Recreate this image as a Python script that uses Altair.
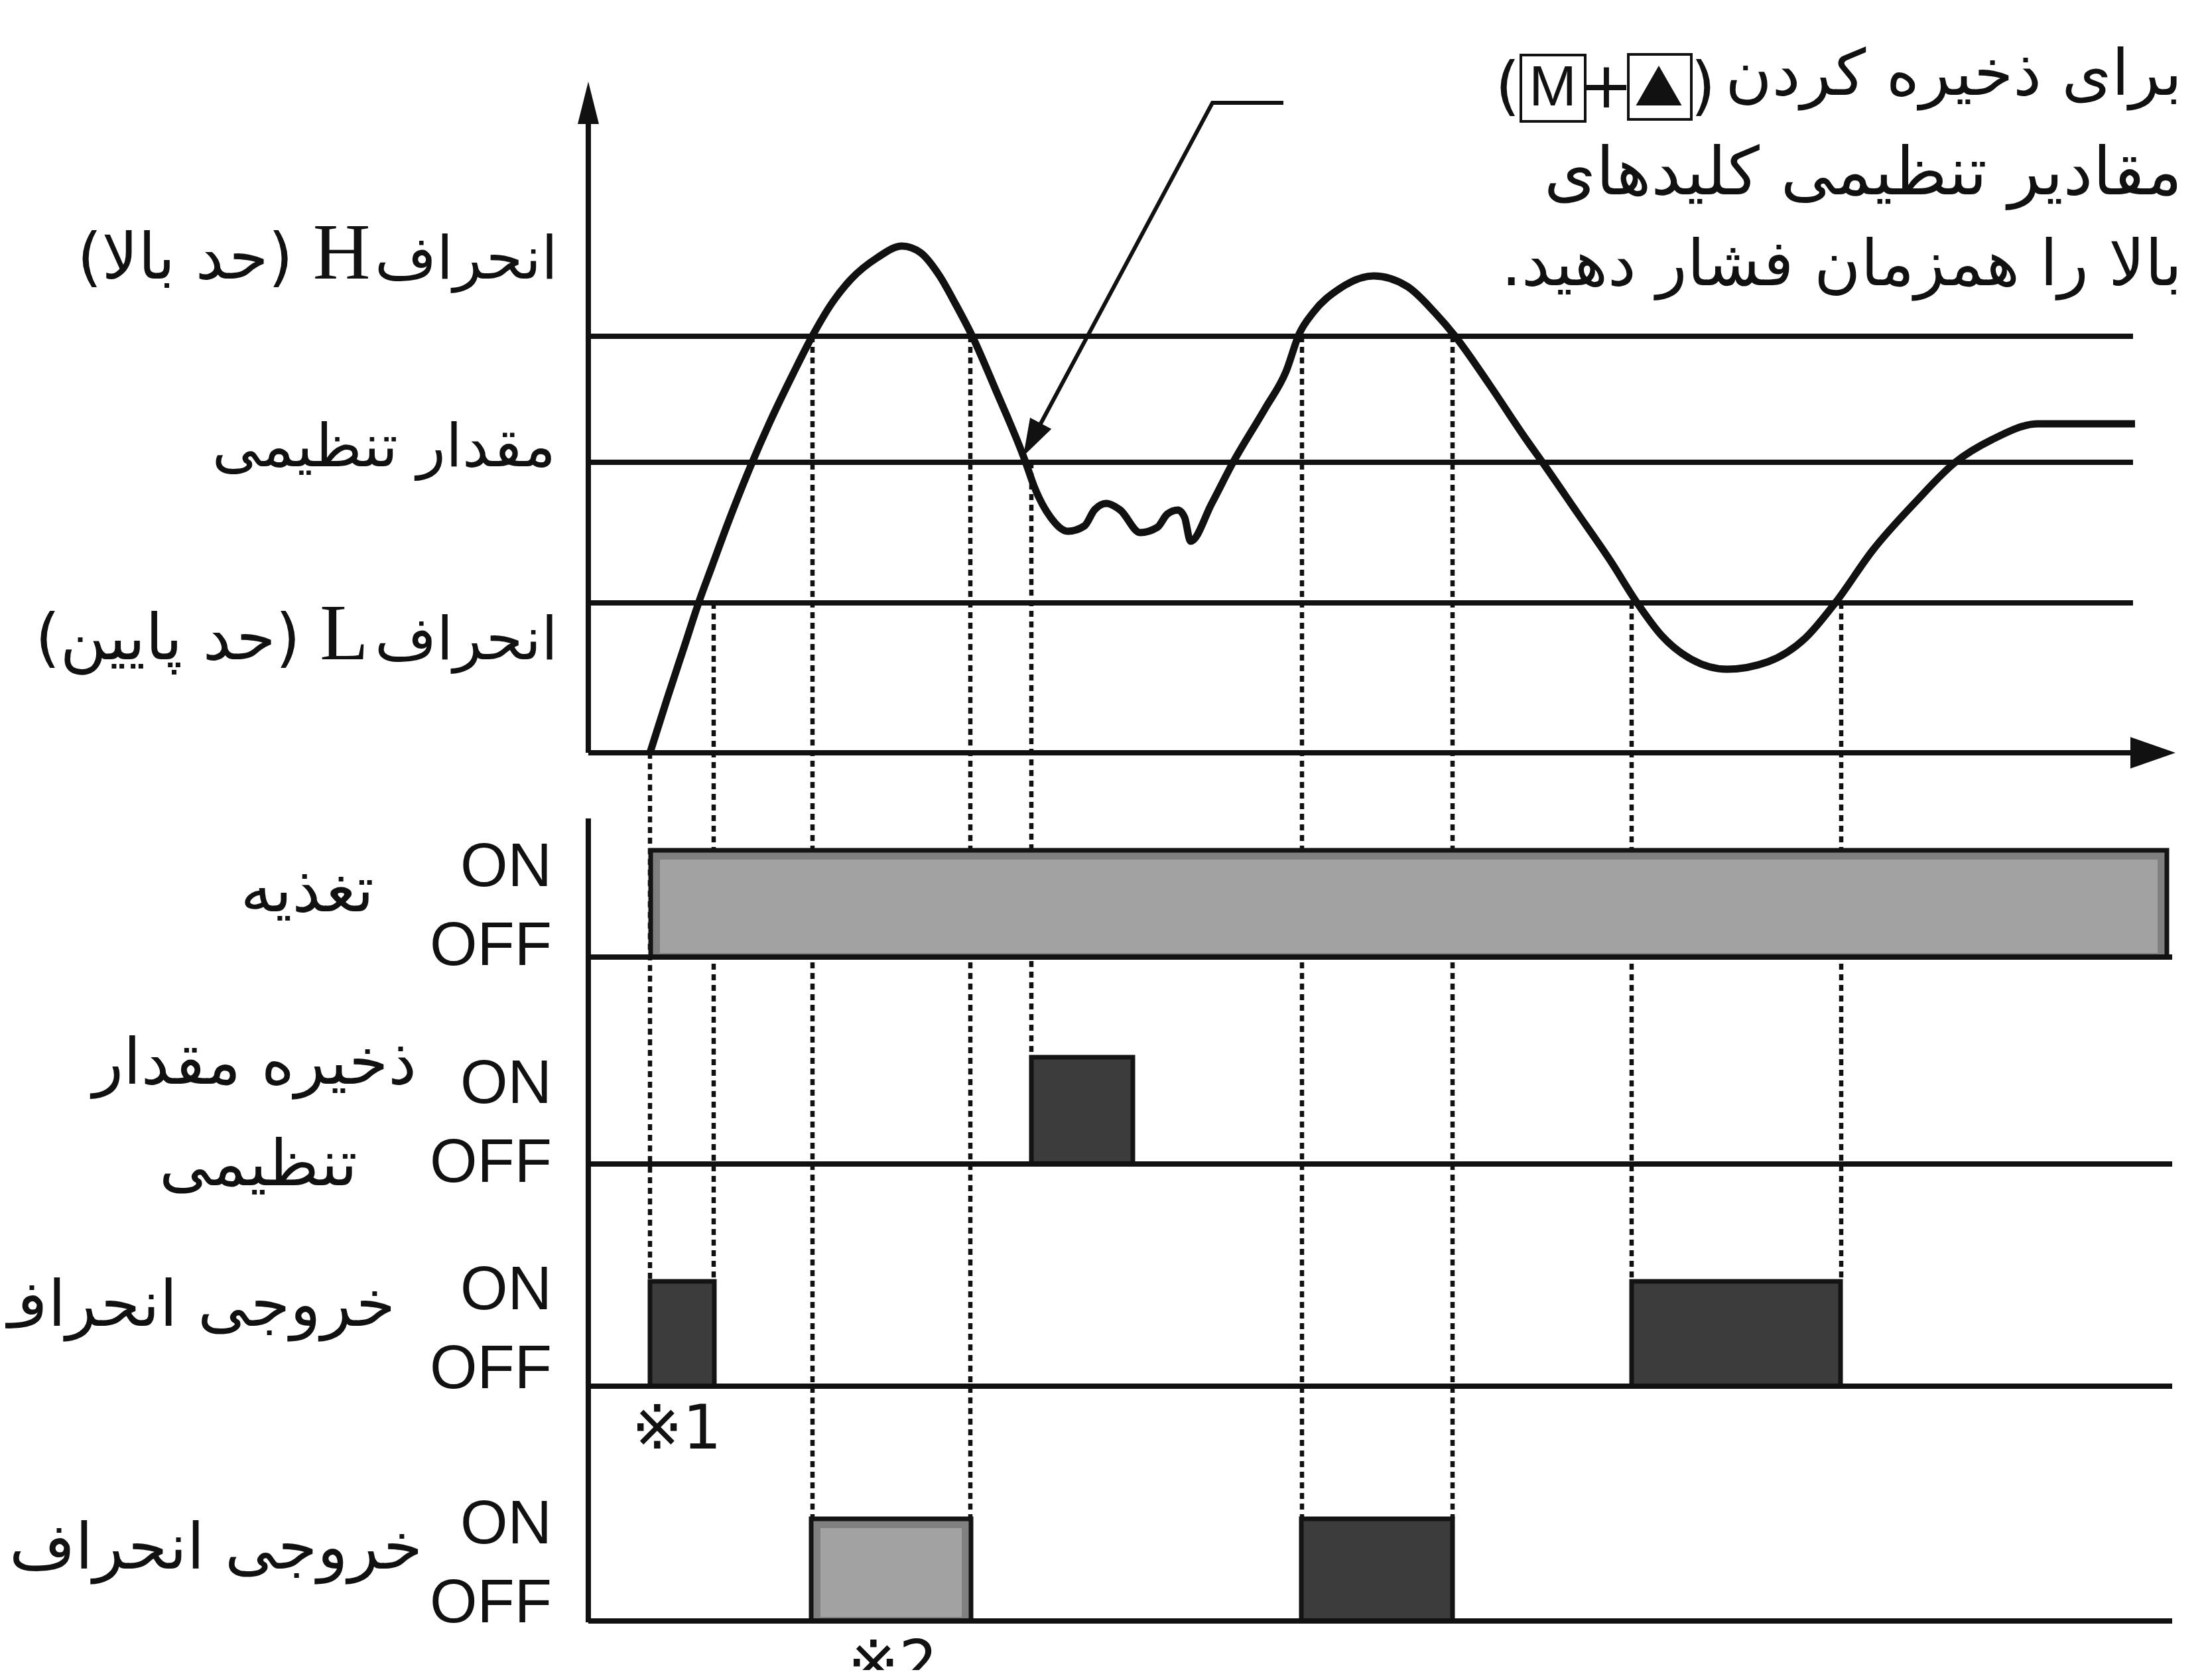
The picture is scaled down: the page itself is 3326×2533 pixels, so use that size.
import altair as alt
import pandas as pd

# ------------------------------------------------------------------
# DATA (time t, level v in diagram units)
# ------------------------------------------------------------------
CURVE_T = [9.3, 11.9, 14.4, 16.8, 18.6, 21.0, 24.5, 27.3, 30.9, 33.7, 36.8, 39.6, 43.5, 47.3,
           50.1, 52.9, 55.4, 57.9, 61.3,
           65.9, 67.2, 69.7, 72.3, 74.8, 76.3, 78.1, 80.2, 83.2, 85.8, 87.3, 88.9, 89.9, 90.8,
           94.0, 97.0, 102.1, 105.2, 107.2, 109.3, 113.3, 118.4, 123.5, 127.6, 130.7, 135.8,
           141.3, 144.0, 149.1, 154.2, 158.0, 161.8, 166.3, 171.7, 177.8, 183.5, 188.0, 193.7,
           200.1, 206.1, 211.6, 218.6, 233.2]
CURVE_V = [0.0, 8.2, 15.8, 23.1, 28.0, 34.5, 43.3, 49.7, 57.2, 62.7, 67.9, 71.4, 74.6, 76.4,
           75.4, 72.0, 67.6, 62.8, 55.0,
           43.9, 40.2, 35.5, 33.4, 34.2, 36.6, 37.6, 36.6, 33.2, 34.0, 36.0, 36.6, 35.5, 31.9,
           37.6, 43.4, 52.0, 57.5, 63.2, 66.4, 70.0, 71.9, 70.3, 66.4, 62.8, 55.6,
           47.4, 43.6, 36.2, 28.8, 22.8, 17.7, 14.1, 12.6, 13.7, 17.3, 22.6, 30.6,
           37.8, 43.8, 47.2, 49.6, 49.6]

LEVEL_NAMES = ["H", "SP", "L"]
LEVEL_VALUES = [62.8, 43.8, 22.6]

ROW_NAMES = ["power", "store", "out_L", "out_H"]
ROW_BASE = [-30.8, -62.0, -95.5, -130.9]
ROW_TOP = [-14.7, -45.9, -79.7, -115.5]

BAR_ROW = ["power", "store", "out_L", "out_L", "out_H", "out_H"]
BAR_START = [9.4, 66.8, 9.3, 157.3, 33.6, 107.5]
BAR_END = [238.0, 82.1, 19.0, 188.8, 57.7, 130.3]
BAR_SHADE = ["light", "dark", "dark", "dark", "light", "dark"]

EVENT_T = [9.3, 18.9, 33.8, 57.6, 66.8, 107.6, 130.3, 157.3, 188.9]
EVENT_FROM = ["axis", "L", "H", "H", "SP", "H", "H", "L", "L"]
EVENT_ROW = ["out_L", "out_L", "out_H", "out_H", "store", "out_H", "out_H", "out_L", "out_L"]

RLM = "\u200f"
LEVEL_WORDS = ["انحراف", "مقدار تنظیمی", "انحراف"]
LEVEL_PARENS = ["(حد بالا)", "(حد پایین)"]
LEVEL_LETTERS = ["H", "L"]
SIGNAL_TEXT = ["تغذیه", "ذخیره مقدار", "تنظیمی", "خروجی انحراف", "خروجی انحراف"]
NOTE_TEXT = ["برای ذخیره کردن", "مقادیر تنظیمی کلیدهای", RLM + "بالا را همزمان فشار دهید." + RLM]
FOOT_TEXT = ["※1", "※2"]

# ------------------------------------------------------------------
# LAYOUT (frame, anchors of annotations)
# ------------------------------------------------------------------
W, H = 3310, 2510
T_DOM = [-87.9, 243.1]
V_DOM = [-138.3, 112.7]
LEVEL_LINE_END = 232.9
ROW_LINE_END = 238.8
INK = "#111111"
AR_FONT = "DejaVu Sans"

LEVEL_WORD_POS = [(-4.6, 71.5), (-4.9, 43.2), (-4.6, 14.1)]
LEVEL_PAREN_POS = [(-44.5, 71.5), (-43.4, 14.1)]
LEVEL_LETTER_POS = [(-37.2, 71.5), (-36.8, 14.1)]
SIGNAL_TEXT_POS = [(-32.3, -23.9), (-25.9, -49.9), (-34.8, -65.2), (-29.1, -86.4), (-25.0, -123.0)]
ON_V = [-20.1, -52.8, -83.9, -119.2]
OFF_V = [-32.0, -64.7, -95.8, -131.1]
ONOFF_T = -5.5
NOTE_POS = [(240.3, 99.2), (240.3, 84.2), (240.3, 70.5)]
FOOT_POS = [(13.3, -104.9), (45.9, -133.1)]

XS = alt.Scale(domain=T_DOM, nice=False, zero=False)
YS = alt.Scale(domain=V_DOM, nice=False, zero=False)


def X(f):
    return alt.X(f, type="quantitative", scale=XS, axis=None)


def Y(f):
    return alt.Y(f, type="quantitative", scale=YS, axis=None)


layers = []

# threshold lines
lev_df = pd.DataFrame({"name": LEVEL_NAMES, "v": LEVEL_VALUES})
lev_df["t"] = 0.0
lev_df["t2"] = LEVEL_LINE_END
layers.append(alt.Chart(lev_df).mark_rule(color=INK, strokeWidth=8).encode(
    x=X("t"), x2="t2", y=Y("v")))

# axes
axis_df = pd.DataFrame({"t": [0.0, 0.0, 0.0], "v": [0.0, 0.0, -9.9],
                        "t2": [0.0, 236.5, 0.0], "v2": [99.0, 0.0, -131.1]})
layers.append(alt.Chart(axis_df).mark_rule(color=INK, strokeWidth=8).encode(
    x=X("t"), x2="t2", y=Y("v"), y2="v2"))

# event (dotted) lines
level_of = dict(zip(LEVEL_NAMES, LEVEL_VALUES))
level_of["axis"] = 0.0
top_of = dict(zip(ROW_NAMES, ROW_TOP))
base_of = dict(zip(ROW_NAMES, ROW_BASE))
ev_df = pd.DataFrame({"t": EVENT_T,
                      "v": [level_of[s] for s in EVENT_FROM],
                      "v2": [top_of[r] for r in EVENT_ROW]})
layers.append(alt.Chart(ev_df).mark_rule(color=INK, strokeWidth=6.5, strokeDash=[9, 7]).encode(
    x=X("t"), y=Y("v"), y2="v2"))

# bars
bar_df = pd.DataFrame({"t": BAR_START, "t2": BAR_END,
                       "v": [base_of[r] for r in BAR_ROW],
                       "v2": [top_of[r] for r in BAR_ROW],
                       "shade": BAR_SHADE})
enc = dict(x=X("t"), x2="t2", y=Y("v"), y2="v2")
layers.append(alt.Chart(bar_df).transform_filter("datum.shade == 'light'").mark_rect(
    fill="#808080", stroke="#141414", strokeWidth=7).encode(**enc))
layers.append(alt.Chart(bar_df).transform_filter("datum.shade == 'light'").mark_rect(
    fill="#a2a2a2", xOffset=14, x2Offset=-14, yOffset=-6, y2Offset=14).encode(**enc))
layers.append(alt.Chart(bar_df).transform_filter("datum.shade == 'dark'").mark_rect(
    fill="#3c3c3c", stroke="#141414", strokeWidth=7).encode(**enc))

# row baselines
row_df = pd.DataFrame({"row": ROW_NAMES, "v": ROW_BASE})
row_df["t"] = 0.0
row_df["t2"] = ROW_LINE_END
layers.append(alt.Chart(row_df).mark_rule(color=INK, strokeWidth=8).encode(
    x=X("t"), x2="t2", y=Y("v")))

# process curve
curve_df = pd.DataFrame({"t": CURVE_T, "v": CURVE_V})
layers.append(alt.Chart(curve_df).mark_line(color=INK, strokeWidth=11, interpolate="monotone",
                                            strokeJoin="round").encode(
    x=X("t"), y=Y("v")))

# pointer to the set value
ptr_df = pd.DataFrame({"t": [104.8, 94.1, 66.9], "v": [98.0, 98.0, 47.2], "i": [0, 1, 2]})
layers.append(alt.Chart(ptr_df).mark_line(color=INK, strokeWidth=6).encode(
    x=X("t"), y=Y("v"), order="i:Q"))


def head(t, v, shape, size, angle=0):
    df = pd.DataFrame({"t": [t], "v": [v]})
    return alt.Chart(df).mark_point(shape=shape, size=size, angle=angle, filled=True,
                                    fill=INK, color=INK, opacity=1, strokeWidth=0).encode(
        x=X("t"), y=Y("v"))


layers.append(head(0.0, 98.0, "M0,-1L-0.5,1L0.5,1Z", 4096))
layers.append(head(235.9, 0.0, "M1,0L-1,-0.7L-1,0.7Z", 4624))
layers.append(head(66.9, 47.2, "M0,-1L-0.65,1L0.65,1Z", 3136, 208))

# key symbols (M + ▲)
box_df = pd.DataFrame({"t": [140.6, 156.8], "t2": [150.3, 166.3],
                       "v": [95.2, 95.5], "v2": [105.2, 105.3]})
layers.append(alt.Chart(box_df).mark_rect(fill="white", stroke=INK, strokeWidth=4).encode(
    x=X("t"), x2="t2", y=Y("v"), y2="v2"))
layers.append(head(161.4, 100.6, "M0,-1L-1.15,1L1.15,1Z", 3600))


def texts(labels, pos, font, size, align, baseline="alphabetic"):
    df = pd.DataFrame({"label": labels, "t": [p[0] for p in pos], "v": [p[1] for p in pos]})
    return alt.Chart(df).mark_text(font=font, fontSize=size, align=align, baseline=baseline,
                                   color=INK).encode(x=X("t"), y=Y("v"), text="label:N")


layers.append(texts(LEVEL_WORDS, LEVEL_WORD_POS, AR_FONT, 90, "right"))
layers.append(texts(LEVEL_PARENS, LEVEL_PAREN_POS, AR_FONT, 96, "right"))
layers.append(texts(LEVEL_LETTERS, LEVEL_LETTER_POS, "Liberation Serif", 120, "center"))
layers.append(texts(SIGNAL_TEXT, SIGNAL_TEXT_POS, AR_FONT, 96, "right"))
layers.append(texts(["ON"] * 4, [(ONOFF_T, v) for v in ON_V], "Liberation Sans", 92, "right"))
layers.append(texts(["OFF"] * 4, [(ONOFF_T, v) for v in OFF_V], "Liberation Sans", 92, "right"))
layers.append(texts(NOTE_TEXT[:1], NOTE_POS[:1], AR_FONT, 96, "right"))
layers.append(texts(NOTE_TEXT[1:2], NOTE_POS[1:2], AR_FONT, 100, "right"))
layers.append(texts(NOTE_TEXT[2:], NOTE_POS[2:], AR_FONT, 96, "right"))
layers.append(texts(["(", "+", ")"], [(138.6, 100.2), (153.5, 100.2), (168.1, 100.2)],
                    AR_FONT, 96, "center", "middle"))
layers.append(texts(["M"], [(145.4, 100.2)], "Liberation Sans", 86, "center", "middle"))
layers.append(texts(FOOT_TEXT[:1], FOOT_POS[:1], "DejaVu Sans", 92, "center"))
layers.append(texts(FOOT_TEXT[1:], FOOT_POS[1:], "DejaVu Sans", 92, "center", "top"))

chart = alt.layer(*layers).properties(
    width=W, height=H, padding=0, background="white",
    autosize=alt.AutoSizeParams(type="none"),
).configure_view(stroke=None)

chart.save("out.html", embed_options={"renderer": "svg", "actions": False})
